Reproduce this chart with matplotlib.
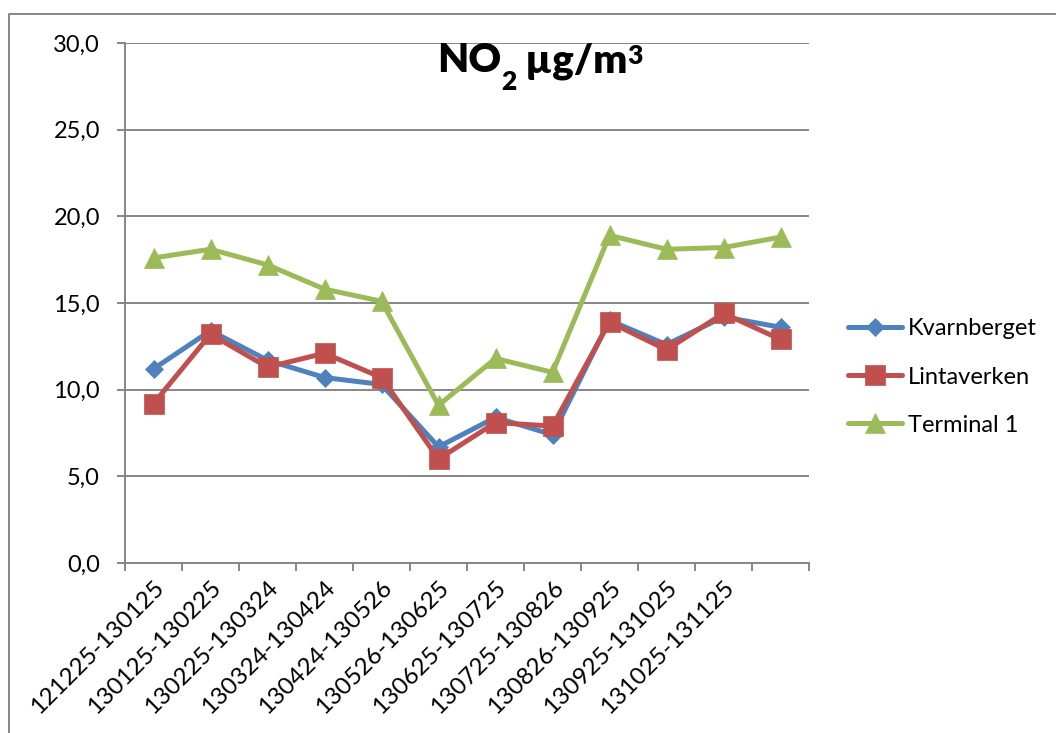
import matplotlib
matplotlib.use("Agg")
import matplotlib.pyplot as plt
from matplotlib.lines import Line2D

plt.rcParams["font.family"] = ["Lato", "DejaVu Sans"]

# Measurement periods (last period has no label)
periods = ["121225-130125", "130125-130225", "130225-130324", "130324-130424",
           "130424-130526", "130526-130625", "130625-130725", "130725-130826",
           "130826-130925", "130925-131025", "131025-131125", ""]

kvarnberget = [11.2, 13.4, 11.7, 10.7, 10.3, 6.7, 8.4, 7.4, 14.0, 12.6, 14.2, 13.6]
lintaverken = [9.2, 13.2, 11.3, 12.1, 10.7, 6.0, 8.1, 7.9, 13.9, 12.3, 14.4, 12.9]
terminal1 = [17.6, 18.1, 17.2, 15.8, 15.1, 9.1, 11.8, 11.0, 18.9, 18.1, 18.2, 18.8]

y_ticks = [0, 5, 10, 15, 20, 25, 30]
y_tick_labels = ["0,0", "5,0", "10,0", "15,0", "20,0", "25,0", "30,0"]

W, H = 1056, 733
fig = plt.figure(figsize=(W / 100, H / 100), dpi=100)
fig.patch.set_facecolor("white")

# plot area in pixel terms
left_px, right_px, top_px, bottom_px = 125, 809, 43, 563
ax = fig.add_axes([left_px / W, 1 - bottom_px / H,
                   (right_px - left_px) / W, (bottom_px - top_px) / H])

grid_color = "#868686"
x = list(range(len(periods)))

series = [
    ("Kvarnberget", kvarnberget, "#4F81BD", "D", 9.3),
    ("Lintaverken", lintaverken, "#C0504D", "s", 14.0),
    ("Terminal 1", terminal1, "#9BBB59", "^", 14.0),
]
for name, vals, col, mk, ms in series:
    ax.plot(x, vals, color=col, lw=3.6, marker=mk, markersize=ms,
            markerfacecolor=col, markeredgecolor=col, markeredgewidth=0.5,
            solid_joinstyle="round", solid_capstyle="round", label=name,
            zorder=3)

ax.set_xlim(-0.5, len(periods) - 0.5)
ax.set_ylim(0, 30)

# horizontal gridlines
ax.set_yticks(y_ticks)
ax.set_yticklabels(y_tick_labels)
ax.yaxis.grid(True, color=grid_color, lw=1.4)
ax.set_axisbelow(True)

# category boundaries carry the tick marks, centers carry the labels
bounds = [i - 0.5 for i in range(len(periods) + 1)]
ax.set_xticks(bounds)
ax.set_xticklabels([""] * len(bounds))
ax.set_xticks(x, minor=True)
ax.set_xticklabels(periods, minor=True, rotation=45, ha="right", va="top",
                   rotation_mode="anchor")
ax.tick_params(axis="x", which="major", length=6, width=1.4, color=grid_color,
               direction="out")
ax.tick_params(axis="x", which="minor", length=0, pad=10, labelsize=17.5)
ax.tick_params(axis="y", length=6, width=1.4, color=grid_color, pad=12,
               labelsize=17)

for side in ["top", "right"]:
    ax.spines[side].set_visible(False)
for side in ["left", "bottom"]:
    ax.spines[side].set_color(grid_color)
    ax.spines[side].set_linewidth(1.4)

# legend
ax.legend(loc="center left", bbox_to_anchor=(848 / W, 1 - 377 / H),
          bbox_transform=fig.transFigure, frameon=False, fontsize=17,
          borderpad=0, borderaxespad=0, handlelength=2.3, handletextpad=0.25,
          labelspacing=1.15, numpoints=1)

# title assembled from pieces: NO, subscript 2, µg/m, superscript 3
renderer = fig.canvas.get_renderer()
pieces = [("NO", 29, 0), ("2", 19, -18), (" µg/m", 29, 0), ("3", 19, 8)]
baseline_px = 72
texts = []
for s, size, dy in pieces:
    t = fig.text(0, 0, s, fontsize=size, fontweight="heavy", ha="left",
                 va="baseline")
    texts.append((t, dy))
widths = [t.get_window_extent(renderer).width for t, _ in texts]
total = sum(widths)
start = 540 - total / 2
for (t, dy), w in zip(texts, widths):
    t.set_position((start / W, 1 - (baseline_px - dy) / H))
    start += w

# chart area border (left and top edges visible)
fig.add_artist(Line2D([9 / W, 9 / W, 1.01], [-0.01, 1 - 14 / H, 1 - 14 / H],
                      transform=fig.transFigure, color=grid_color, lw=1.4))

fig.savefig("out.png", dpi=100, facecolor="white")
